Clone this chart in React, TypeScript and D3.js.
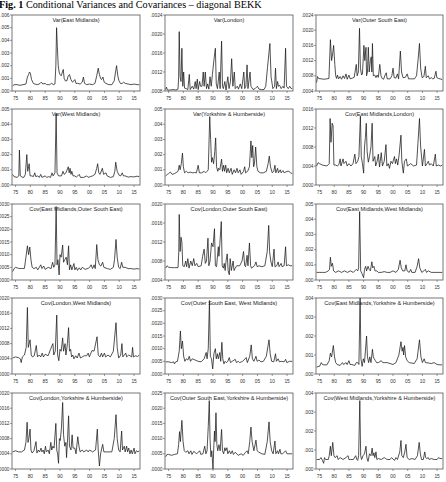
import React from "react";
import * as d3 from "d3";

// values in units of 1e-4, stored as [year, value, year, value, ...]
const emVar = [1974.0, 4, 1974.5, 5, 1975.5, 5, 1976.5, 4.5, 1977.5, 5, 1978.5, 5.5, 1979.0, 11, 1979.4, 13, 1979.7, 15, 1980.0, 14, 1980.4, 9, 1981.0, 6, 1981.5, 5.5, 1982.5, 5, 1983.3, 6, 1983.7, 7, 1984.2, 5.5, 1985.0, 6, 1985.5, 5, 1986.5, 5, 1987.2, 6, 1987.8, 5, 1988.3, 5.5, 1988.6, 20, 1988.85, 50, 1989.1, 35, 1989.4, 20, 1989.7, 15, 1990.0, 13, 1990.4, 12, 1990.7, 14, 1991.1, 17, 1991.4, 10, 1991.8, 8, 1992.3, 8, 1992.8, 12, 1993.2, 13, 1993.7, 9, 1994.2, 7, 1994.7, 8, 1995.0, 9, 1995.4, 6, 1996.0, 6, 1996.8, 5.5, 1997.5, 7, 1997.9, 11, 1998.3, 6, 1999.0, 5, 2000.0, 5.5, 2001.0, 5, 2001.8, 6, 2002.4, 12, 2002.9, 18, 2003.3, 13, 2003.7, 10, 2004.0, 9, 2004.5, 11, 2004.9, 7, 2005.5, 6, 2006.5, 5, 2007.5, 5, 2008.3, 8, 2008.8, 16, 2009.1, 20, 2009.5, 12, 2009.9, 8, 2010.4, 6, 2011.0, 6, 2011.5, 7, 2012.0, 6, 2013.0, 5.5, 2014.0, 5, 2015.0, 5.5, 2016.0, 5, 2016.75, 5];

const lonVar = [1974.0, 8.3, 1974.3, 8.8, 1974.6, 8.2, 1975.5, 8.2, 1976.5, 8.3, 1977.5, 8.2, 1978.2, 8.4, 1978.4, 11, 1978.6, 20.5, 1978.9, 11, 1979.2, 10, 1979.5, 17, 1979.8, 9, 1980.1, 12, 1980.4, 8.6, 1981.0, 8.5, 1981.5, 8.3, 1982.0, 11.5, 1982.3, 8.3, 1983.0, 9, 1983.5, 8.4, 1984.0, 10, 1984.3, 8.5, 1984.7, 10.5, 1985.0, 8.3, 1985.5, 10, 1985.8, 9, 1986.3, 9, 1986.7, 12, 1987.0, 9, 1987.4, 12, 1987.8, 8.5, 1988.2, 9.5, 1988.6, 8.4, 1989.0, 11, 1989.4, 9, 1989.8, 11.5, 1990.4, 15, 1990.8, 17, 1991.1, 9.5, 1991.5, 8.5, 1992.1, 12, 1992.4, 8.5, 1992.9, 18.5, 1993.2, 9, 1993.5, 8.5, 1994.0, 10, 1994.4, 8.2, 1995.0, 11, 1995.4, 8.5, 1995.9, 10, 1996.3, 14.8, 1996.7, 9, 1997.2, 12, 1997.5, 8.5, 1998.2, 9, 1998.6, 8.4, 1999.2, 9.5, 1999.7, 8.5, 2000.4, 12, 2000.7, 8.5, 2001.1, 9, 2001.5, 13.5, 2001.8, 8.5, 2002.5, 12, 2002.8, 9, 2003.5, 8.3, 2004.2, 8.5, 2005.0, 9, 2005.5, 8.4, 2006.3, 8.3, 2007.2, 8.3, 2007.8, 9, 2008.4, 13, 2009.2, 18, 2009.6, 11, 2010.2, 8.5, 2010.8, 9, 2011.1, 12.8, 2011.4, 8.5, 2011.8, 10, 2012.1, 9, 2012.5, 9.2, 2013.0, 8.5, 2013.6, 9, 2014.0, 8.6, 2014.5, 17, 2014.8, 9, 2015.4, 8.5, 2015.9, 9, 2016.4, 8.5, 2016.75, 8.6];

const oseVar = [1974.0, 6.2, 1974.3, 7.8, 1974.7, 7.3, 1975.5, 7.2, 1976.5, 7.1, 1977.5, 7.2, 1978.2, 7.3, 1978.7, 17.5, 1979.1, 12, 1979.5, 14, 1979.8, 16, 1980.2, 11, 1980.5, 8, 1980.8, 7.3, 1981.1, 8.2, 1981.5, 7.2, 1982.0, 7.8, 1982.5, 7.1, 1983.0, 8, 1983.5, 7.3, 1984.0, 8.5, 1984.4, 7.1, 1985.0, 8.2, 1985.4, 7.2, 1986.2, 7.4, 1986.8, 7.6, 1987.5, 11, 1987.8, 8, 1988.2, 9, 1988.6, 20.5, 1988.9, 10, 1989.3, 8.2, 1989.6, 8.5, 1990.1, 16, 1990.4, 12, 1990.8, 15.5, 1991.0, 8, 1991.3, 9, 1991.6, 15.5, 1991.9, 9, 1992.3, 12, 1992.6, 13, 1992.8, 9, 1993.0, 16.5, 1993.3, 8, 1993.8, 8.2, 1994.2, 7.5, 1994.6, 8.2, 1995.0, 7.6, 1995.5, 11, 1995.9, 8, 1996.3, 7.3, 1996.8, 7.1, 1997.3, 8.2, 1997.7, 8.8, 1998.0, 7.2, 1999.0, 7.2, 1999.6, 8, 2000.0, 10, 2000.4, 7.5, 2001.0, 7.4, 2001.5, 8.5, 2001.9, 7.2, 2002.5, 14.5, 2002.9, 9, 2003.4, 7.5, 2004.2, 7.6, 2004.8, 8.5, 2005.3, 7.2, 2006.3, 7.2, 2007.3, 7.2, 2008.0, 8, 2008.5, 12, 2009.0, 16.5, 2009.4, 10, 2009.9, 7.5, 2010.5, 7.8, 2011.0, 10.5, 2011.3, 7.5, 2012.0, 8, 2012.4, 7.2, 2013.0, 7.5, 2013.5, 7.2, 2014.0, 7.3, 2014.6, 9.2, 2014.9, 7.5, 2015.5, 7.3, 2016.0, 7.2, 2016.75, 7];

const wmVar = [1974.0, 7, 1974.5, 5.5, 1975.5, 5, 1976.1, 6, 1976.3, 23, 1976.6, 6, 1977.2, 5.2, 1977.8, 5, 1978.3, 7, 1978.8, 20, 1979.1, 9, 1979.6, 14, 1979.9, 6, 1980.5, 6, 1981.0, 5.5, 1981.5, 8, 1981.8, 5.5, 1982.5, 6, 1983.0, 5, 1983.5, 7, 1983.9, 5, 1985.0, 6, 1985.5, 5, 1986.2, 5.5, 1986.8, 5, 1987.3, 8, 1987.7, 6, 1988.3, 8, 1988.7, 47, 1989.0, 8, 1989.5, 6, 1990.5, 6, 1991.0, 9, 1991.4, 7, 1992.0, 8, 1992.8, 12, 1993.1, 8, 1993.4, 11, 1993.7, 7, 1994.0, 9, 1994.4, 6, 1995.0, 6, 1995.5, 5.2, 1996.0, 6, 1996.5, 7, 1996.9, 5, 1998.0, 5, 1999.0, 6, 1999.5, 5, 2000.2, 5.5, 2001.0, 6, 2001.8, 7, 2002.4, 11, 2002.7, 14, 2003.1, 8, 2003.5, 7, 2004.3, 11, 2004.7, 7, 2005.5, 8, 2005.9, 6, 2007.0, 5, 2008.0, 5.5, 2008.5, 9, 2008.8, 15, 2009.3, 9, 2009.9, 6.5, 2010.5, 6, 2011.0, 8, 2011.4, 6, 2012.0, 6, 2013.0, 5.2, 2014.0, 5.5, 2015.0, 5.3, 2016.0, 5.8, 2016.75, 5.5];

const yhVar = [1974.0, 6, 1974.6, 7, 1975.0, 7.5, 1975.6, 8.5, 1976.2, 7, 1977.0, 7.5, 1977.6, 8.2, 1978.2, 9, 1978.6, 13, 1978.9, 10, 1979.3, 14, 1979.7, 21, 1980.0, 12, 1980.4, 8, 1981.0, 9, 1981.6, 8, 1982.3, 8.5, 1983.0, 8, 1983.8, 8.2, 1984.4, 8, 1985.0, 13, 1985.4, 8, 1986.2, 8, 1987.0, 9, 1987.5, 8, 1988.0, 9, 1988.4, 10, 1988.9, 45, 1989.2, 30, 1989.5, 15, 1989.8, 18, 1990.2, 14, 1990.6, 22, 1990.9, 31, 1991.2, 12, 1991.6, 9, 1991.9, 11, 1992.3, 10, 1992.9, 17, 1993.2, 9, 1993.6, 13, 1993.9, 9, 1994.3, 13, 1994.6, 8, 1995.1, 11, 1995.5, 8, 1996.1, 11, 1996.5, 7, 1997.1, 10, 1997.6, 8, 1998.1, 11, 1998.5, 8, 1999.1, 10, 1999.5, 7, 2000.3, 9, 2000.7, 12, 2001.0, 8, 2001.7, 9, 2002.3, 12, 2002.8, 29, 2003.1, 18, 2003.4, 26, 2003.7, 12, 2004.0, 14, 2004.4, 25, 2004.8, 12, 2005.2, 9, 2006.0, 8, 2007.0, 8, 2008.0, 9, 2008.6, 14, 2009.0, 19, 2009.4, 12, 2010.0, 8, 2010.5, 9, 2010.9, 13, 2011.2, 8, 2011.8, 11, 2012.1, 8, 2012.7, 10, 2013.0, 8, 2013.6, 9.5, 2014.0, 8, 2015.0, 9, 2015.6, 9, 2016.2, 8, 2016.75, 7.5];

const emLon = [1974.0, 4, 1974.5, 4.7, 1975.0, 4.5, 1976.0, 4.2, 1977.5, 4, 1978.3, 4.5, 1978.6, 14, 1978.9, 9, 1979.3, 13, 1979.6, 12.5, 1979.9, 4.2, 1980.5, 4.2, 1981.0, 4, 1981.6, 4.3, 1982.0, 5.5, 1982.3, 4, 1983.0, 5.5, 1983.3, 4.5, 1984.0, 5, 1984.4, 4, 1985.0, 4.5, 1985.7, 4, 1986.4, 4.5, 1987.0, 6.5, 1987.4, 4.5, 1988.0, 5, 1988.4, 6, 1988.9, 14.5, 1989.2, 6, 1989.6, 4.5, 1990.0, 2.5, 1990.3, 8, 1990.6, 10, 1990.9, 13, 1991.2, 7, 1991.6, 4.8, 1992.0, 6, 1992.5, 8, 1992.9, 13, 1993.2, 5, 1993.8, 6, 1994.1, 4, 1994.6, 5, 1995.0, 6.5, 1995.4, 3.8, 1996.0, 6.8, 1996.4, 4, 1997.0, 5, 1997.6, 8.5, 1997.9, 4, 1998.4, 4.5, 1998.8, 3.5, 1999.3, 5, 1999.8, 4.5, 2000.5, 6, 2000.8, 4.5, 2001.2, 5.5, 2001.6, 4.2, 2002.1, 6.5, 2002.7, 10.5, 2003.0, 5, 2003.5, 2.5, 2003.9, 5, 2004.5, 5.5, 2004.9, 4, 2006.0, 4.5, 2007.0, 4, 2008.0, 4.2, 2008.5, 9, 2009.0, 14, 2009.4, 8, 2010.0, 4, 2010.7, 7.5, 2011.0, 4, 2011.6, 4.5, 2012.0, 5, 2012.4, 4.2, 2013.0, 4.5, 2013.7, 4, 2014.4, 6.5, 2014.7, 4, 2015.5, 4.2, 2016.2, 4, 2016.75, 4.2];

const emOse = [1974.0, 3.3, 1974.5, 4.5, 1975.0, 5, 1976.0, 4.6, 1977.0, 4.5, 1978.0, 4.6, 1978.5, 9, 1979.0, 13.5, 1979.4, 10, 1979.8, 13, 1980.2, 8, 1980.6, 5, 1981.2, 4.5, 1982.0, 5, 1982.5, 4, 1983.5, 6, 1983.9, 4.5, 1984.5, 5.5, 1985.0, 4.2, 1986.0, 5, 1987.0, 4.5, 1987.5, 7, 1987.9, 5, 1988.3, 6, 1988.7, 29, 1989.0, 6, 1989.3, 8, 1989.7, 2, 1990.0, 10, 1990.4, 9, 1990.9, 13.8, 1991.2, 7, 1991.6, 8, 1992.1, 9, 1992.5, 6, 1992.9, 13.5, 1993.2, 4, 1993.6, 6, 1994.0, 4, 1994.7, 6.5, 1995.0, 4, 1995.5, 5, 1995.9, 3.8, 1996.5, 4.8, 1997.0, 4, 1997.5, 5, 1998.5, 4.2, 1999.5, 4.6, 2000.0, 5, 2000.5, 6, 2001.0, 4.5, 2001.5, 6, 2001.9, 4.5, 2002.4, 14, 2002.8, 8, 2003.3, 6, 2003.8, 5.5, 2004.4, 7, 2004.8, 5, 2006.0, 4.5, 2007.0, 4.2, 2008.0, 5, 2008.4, 8, 2008.9, 16, 2009.3, 9, 2009.8, 5, 2010.3, 4.5, 2010.8, 7, 2011.2, 5, 2012.0, 5, 2013.0, 4.5, 2014.0, 4.5, 2015.0, 4.3, 2016.0, 4.5, 2016.75, 4.3];

const lonOse = [1974.0, 6.5, 1974.5, 7, 1975.0, 6.7, 1976.0, 6.6, 1977.0, 6.6, 1978.2, 6.6, 1978.45, 10, 1978.6, 17.8, 1978.9, 10, 1979.2, 13, 1979.5, 12, 1979.8, 7, 1980.3, 6.8, 1980.8, 8, 1981.1, 6.8, 1981.5, 8.5, 1981.9, 6.5, 1982.5, 8, 1983.0, 7, 1983.5, 8.5, 1983.9, 7, 1984.5, 7.5, 1985.0, 6.8, 1986.0, 7, 1986.5, 9, 1987.0, 10.5, 1987.4, 7.5, 1987.8, 8, 1988.3, 12.8, 1988.6, 7, 1989.0, 8, 1989.5, 11.8, 1990.0, 11, 1990.5, 14.8, 1990.8, 7, 1991.2, 6.8, 1991.8, 11, 1992.0, 9, 1992.3, 11.5, 1992.8, 16.3, 1993.1, 7, 1993.5, 6.5, 1993.8, 7.5, 1994.1, 6, 1994.4, 8, 1994.8, 9.5, 1995.1, 6, 1995.5, 5.1, 1995.8, 8.5, 1996.2, 6, 1996.8, 8, 1997.1, 6, 1997.5, 6.5, 1998.0, 7, 1999.0, 7, 1999.8, 8, 2000.3, 10, 2000.7, 7, 2001.0, 6.8, 2001.5, 9.2, 2001.8, 7, 2002.3, 11.8, 2002.7, 7, 2003.0, 6.5, 2004.0, 7, 2004.5, 7.8, 2004.9, 6.8, 2005.5, 7, 2006.5, 6.8, 2007.5, 7, 2008.3, 10, 2008.8, 15.5, 2009.1, 10, 2009.5, 8, 2010.0, 6.8, 2010.6, 10.5, 2010.9, 6.8, 2011.5, 7, 2012.0, 7.8, 2012.3, 6.8, 2013.0, 7.5, 2013.3, 6.8, 2014.0, 7, 2014.5, 11, 2014.8, 7, 2015.5, 7.2, 2016.0, 7, 2016.75, 7];

const emWm = [1974.0, 5, 1975.0, 5, 1976.0, 5, 1977.0, 5, 1978.0, 6, 1978.4, 7, 1978.7, 15, 1979.0, 9, 1979.4, 11, 1979.8, 6, 1980.5, 5, 1981.5, 6, 1982.5, 5, 1983.5, 6, 1984.5, 5, 1985.5, 6, 1986.5, 5, 1987.5, 7, 1988.0, 6, 1988.3, 8, 1988.65, 45, 1989.0, 6, 1989.5, 4, 1990.0, 1.5, 1990.3, 7, 1990.7, 9, 1991.0, 6, 1991.5, 9, 1991.9, 7, 1992.3, 6, 1992.8, 12, 1993.1, 8, 1993.5, 9, 1993.9, 6, 1994.5, 6, 1995.0, 5, 1996.0, 5, 1997.0, 5.5, 1998.0, 5, 1999.0, 5, 2000.0, 6, 2001.0, 5, 2001.8, 7, 2002.4, 13, 2002.8, 8, 2003.3, 6, 2004.0, 6, 2004.4, 10, 2004.8, 6, 2005.5, 5, 2006.0, 7, 2006.4, 5, 2007.5, 5, 2008.2, 9, 2008.7, 14, 2009.1, 8, 2009.8, 5, 2010.5, 6, 2011.0, 7, 2011.4, 5, 2012.0, 6, 2013.0, 5, 2014.0, 5, 2015.0, 5, 2016.0, 5, 2016.75, 5];

const lonWm = [1974.0, 4.2, 1975.0, 4.5, 1976.0, 4.3, 1976.6, 4, 1976.9, 3, 1977.3, 4.5, 1978.0, 5, 1978.6, 7, 1979.0, 17.5, 1979.3, 7, 1979.6, 8, 1979.9, 9, 1980.3, 5, 1980.7, 4.5, 1981.3, 4.8, 1982.0, 7.5, 1982.4, 4.5, 1983.0, 5, 1983.5, 4.5, 1984.0, 5.5, 1984.4, 4.5, 1985.0, 5.2, 1986.0, 4.8, 1986.8, 6.5, 1987.6, 8, 1987.9, 5, 1988.4, 6, 1988.9, 15.5, 1989.2, 5, 1989.6, 3.5, 1990.0, 6.5, 1990.4, 6, 1990.9, 9.5, 1991.2, 6, 1991.7, 8, 1992.0, 5, 1992.5, 8, 1992.9, 12.2, 1993.2, 6, 1993.6, 6.5, 1993.9, 4.5, 1994.3, 5, 1994.7, 4, 1995.3, 4.8, 1995.8, 4.2, 1996.4, 5.5, 1996.9, 4.2, 1997.5, 4.5, 1998.2, 4.8, 1999.0, 4.8, 1999.5, 5.5, 1999.9, 4.5, 2000.8, 6.2, 2001.5, 6, 2002.5, 9.8, 2002.9, 5, 2003.5, 4.5, 2004.0, 5.5, 2004.4, 4.5, 2005.0, 5.5, 2005.4, 4.5, 2006.2, 5, 2007.0, 4.5, 2008.0, 6, 2008.9, 13.5, 2009.3, 7, 2009.8, 4.2, 2010.5, 5, 2010.9, 8, 2011.2, 4.5, 2011.7, 5, 2012.2, 5.5, 2012.5, 4.5, 2013.2, 5, 2014.2, 4.5, 2014.5, 7, 2014.8, 4.5, 2015.5, 4.8, 2016.2, 4.6, 2016.75, 5];

const oseWm = [1974.0, 4.8, 1975.0, 4.8, 1976.0, 4.5, 1976.7, 4.8, 1977.0, 4, 1977.4, 4.8, 1978.0, 5, 1978.6, 9, 1979.0, 17, 1979.3, 10, 1979.7, 13, 1980.1, 7, 1980.5, 5, 1981.0, 6, 1981.5, 5.5, 1982.0, 7, 1982.4, 5, 1983.0, 6, 1984.0, 5.5, 1985.0, 5, 1986.0, 4.8, 1987.0, 6, 1987.7, 8.5, 1988.0, 6, 1988.4, 10, 1988.8, 29, 1989.1, 7, 1989.5, 6, 1989.9, 2, 1990.3, 8, 1990.8, 10, 1991.1, 6, 1991.5, 8, 1991.8, 6, 1992.3, 8.5, 1992.6, 5, 1993.0, 12.5, 1993.3, 6, 1993.7, 4, 1994.1, 5, 1994.5, 4.5, 1995.0, 5, 1995.5, 6.5, 1995.9, 4.5, 1996.5, 5, 1997.5, 5.8, 1997.9, 4.5, 1998.5, 5, 1999.0, 4.5, 2000.0, 5, 2001.2, 6.5, 2001.6, 4.5, 2002.4, 7, 2002.9, 11.5, 2003.3, 6, 2003.8, 5, 2004.5, 7, 2004.9, 5, 2005.5, 5.5, 2006.2, 4.8, 2007.0, 5, 2008.0, 7, 2008.9, 13.5, 2009.3, 8, 2009.8, 5, 2010.5, 4.8, 2011.1, 8, 2011.4, 5, 2012.0, 6, 2012.4, 4.8, 2013.0, 5, 2014.0, 4.8, 2014.5, 5.8, 2014.9, 4.5, 2015.8, 5, 2016.75, 5];

const emYh = [1974.0, 3.5, 1974.5, 4, 1975.0, 4, 1975.6, 6, 1976.0, 5, 1976.5, 4.8, 1977.5, 4.8, 1978.3, 7, 1978.7, 11, 1979.1, 9, 1979.7, 15, 1980.1, 9, 1980.5, 6, 1981.0, 5, 1982.0, 4.5, 1982.8, 6, 1983.2, 5, 1984.0, 6, 1984.4, 5, 1985.0, 7, 1985.4, 5, 1986.0, 5, 1987.0, 4.5, 1987.5, 6, 1988.0, 6, 1988.4, 5, 1988.8, 40, 1989.1, 8, 1989.5, 4, 1989.9, 8, 1990.3, 6, 1990.6, 12, 1991.0, 20, 1991.3, 9, 1991.7, 6, 1992.1, 9, 1992.5, 6, 1993.0, 13, 1993.3, 9, 1993.6, 8, 1994.0, 7, 1994.4, 6, 1995.0, 6, 1996.0, 7, 1996.5, 6, 1997.2, 6, 1998.0, 6, 1999.0, 5.5, 2000.0, 5, 2001.0, 6, 2002.0, 10, 2002.7, 17, 2003.1, 12, 2003.4, 14, 2003.6, 10, 2003.9, 15, 2004.3, 9, 2004.8, 7, 2005.5, 6, 2006.2, 5.8, 2007.2, 5.5, 2008.2, 8, 2009.0, 18, 2009.5, 9, 2010.0, 6, 2010.6, 8, 2011.0, 6, 2012.0, 5.8, 2013.0, 5.5, 2014.0, 6, 2015.0, 5, 2016.0, 4.8, 2016.75, 4.8];

const lonYh = [1974.0, 4.5, 1975.0, 4.8, 1976.0, 4.5, 1977.0, 4.5, 1978.0, 5, 1978.5, 7, 1978.9, 12.3, 1979.2, 7, 1979.5, 8, 1979.9, 10.5, 1980.2, 5, 1980.6, 4.2, 1981.2, 4.8, 1981.9, 7.2, 1982.2, 4.2, 1982.7, 5, 1983.1, 4.5, 1983.6, 5.5, 1983.9, 4.5, 1984.3, 5, 1984.7, 4, 1985.1, 6, 1985.4, 4.5, 1986.0, 5, 1986.4, 4, 1986.9, 7, 1987.2, 5, 1987.6, 6, 1988.0, 5.5, 1988.6, 12, 1988.9, 5, 1989.2, 4, 1989.5, 1.5, 1989.8, 8, 1990.1, 7.5, 1990.5, 11, 1990.9, 17.5, 1991.2, 9, 1991.6, 6, 1992.0, 7, 1992.2, 3, 1992.5, 7, 1992.9, 14, 1993.2, 6, 1993.7, 5, 1994.1, 9, 1994.4, 5.5, 1995.0, 5.5, 1995.4, 4, 1996.0, 8.5, 1996.4, 6, 1996.8, 4.5, 1997.5, 5, 1998.0, 4.5, 1999.0, 5, 1999.5, 4.5, 2000.0, 5, 2001.0, 4.5, 2002.0, 5, 2002.6, 10.5, 2002.9, 5, 2003.3, 0.8, 2003.7, 4, 2004.4, 6.5, 2004.8, 4.5, 2005.5, 4.5, 2006.5, 4.5, 2007.5, 4.5, 2008.3, 8, 2008.9, 14.3, 2009.3, 8, 2009.8, 5, 2010.3, 4.5, 2010.8, 10, 2011.1, 5, 2011.7, 6, 2012.0, 4.5, 2012.5, 6, 2012.8, 4.5, 2013.2, 5.5, 2013.6, 4, 2014.0, 5, 2014.4, 4, 2015.0, 5.5, 2015.3, 4, 2015.8, 4.8, 2016.3, 4.5, 2016.75, 4.8];

const oseYh = [1974.0, 4, 1974.5, 4.8, 1975.0, 4.8, 1976.0, 4.5, 1977.0, 4.8, 1978.0, 5, 1978.4, 8, 1978.7, 12.3, 1979.0, 9, 1979.5, 16, 1979.9, 9, 1980.3, 6, 1980.8, 5.5, 1981.5, 6, 1981.9, 5, 1982.5, 6, 1982.9, 4.8, 1983.5, 5.8, 1984.5, 5, 1985.5, 6, 1985.9, 4.8, 1986.6, 5, 1987.2, 7.5, 1987.6, 5, 1988.0, 6, 1988.4, 14, 1988.75, 22.5, 1989.0, 10, 1989.3, 4, 1989.6, 6, 1990.0, 0, 1990.3, 8, 1990.5, 12.5, 1990.7, 9, 1991.0, 18.5, 1991.3, 8, 1991.6, 6, 1992.0, 8, 1992.4, 6, 1992.9, 13, 1993.2, 6, 1993.6, 5, 1994.0, 7, 1994.3, 6, 1994.7, 7, 1995.0, 5, 1995.5, 6, 1996.0, 5, 1996.5, 6, 1996.9, 4.8, 1997.5, 5.5, 1998.5, 4.5, 1999.5, 5, 2000.2, 4.5, 2001.0, 5.5, 2001.5, 6, 2001.9, 5, 2002.4, 9, 2002.8, 13.8, 2003.2, 9, 2003.8, 6, 2004.5, 9.5, 2004.9, 6, 2005.5, 5.5, 2006.5, 5, 2007.5, 4.8, 2008.3, 9, 2008.9, 15.5, 2009.3, 9, 2009.8, 6, 2010.3, 5, 2010.9, 9.2, 2011.2, 5, 2011.8, 6, 2012.1, 5, 2012.6, 6.5, 2012.9, 5, 2013.5, 5, 2014.5, 6, 2015.0, 5, 2016.0, 5, 2016.75, 5];

const wmYh = [1974.0, 5, 1975.0, 5, 1975.5, 6, 1976.0, 4.5, 1976.4, 3, 1976.7, 6, 1977.1, 5, 1978.0, 5, 1978.3, 7, 1978.7, 12, 1979.0, 7, 1979.5, 14, 1979.9, 7, 1980.3, 6, 1981.0, 7, 1981.3, 5, 1982.0, 6, 1983.0, 5, 1984.0, 6, 1984.7, 7, 1985.0, 5, 1985.5, 5, 1986.5, 5, 1987.3, 7, 1987.7, 5, 1988.0, 4.5, 1988.3, 7, 1988.7, 36, 1989.0, 7, 1989.3, 5, 1989.8, 7, 1990.3, 8, 1990.8, 12, 1991.1, 6, 1991.5, 4, 1992.0, 8, 1992.5, 7, 1992.9, 11, 1993.2, 7, 1993.5, 8.5, 1993.8, 6, 1994.2, 9, 1994.5, 5, 1995.0, 5.5, 1996.0, 5, 1997.0, 6, 1997.5, 5.5, 1998.0, 5, 1999.0, 5, 1999.5, 6, 2000.5, 4.5, 2001.0, 6, 2001.5, 5, 2002.3, 9, 2002.7, 15, 2003.0, 7, 2003.5, 6, 2004.0, 9, 2004.4, 13, 2004.8, 6, 2005.5, 5, 2006.5, 5.5, 2007.5, 5, 2008.3, 7, 2008.9, 14, 2009.3, 8, 2009.7, 5, 2010.3, 5, 2010.8, 9, 2011.1, 6, 2011.5, 5.5, 2012.0, 6, 2012.3, 5, 2013.0, 5.5, 2014.0, 5, 2015.0, 5, 2015.5, 6, 2016.0, 5.5, 2016.75, 5.5];

const titles = [
  "Var(East Midlands)", "Var(London)", "Var(Outer South East)",
  "Var(West Midlands)", "Var(Yorkshire & Humberside)", "Cov(East Midlands,London)",
  "Cov(East Midlands,Outer South East)", "Cov(London,Outer South East)", "Cov(East Midlands,West Midlands)",
  "Cov(London,West Midlands)", "Cov(Outer South East, West Midlands)", "Cov(East Midlands,Yorkshire & Humberside)",
  "Cov(London,Yorkshire & Humberside)", "Cov(Outer South East,Yorkshire & Humberside)", "Cov(West Midlands,Yorkshire & Humberside)",
];
const series = [emVar, lonVar, oseVar, wmVar, yhVar, emLon, emOse, lonOse, emWm, lonWm, oseWm, emYh, lonYh, oseYh, wmYh];
// y axis: [min, max, step] in 1e-4 units, and label decimals
const yRanges = [
  [0, 60, 10], [8, 24, 4], [4, 24, 4],
  [0, 50, 10], [0, 50, 10], [0, 16, 4],
  [0, 30, 5], [4, 20, 4], [0, 50, 10],
  [0, 20, 4], [0, 30, 5], [0, 40, 10],
  [0, 20, 4], [0, 25, 5], [0, 40, 10],
];
const yDecimals = [3, 4, 4, 3, 3, 4, 4, 4, 3, 4, 4, 3, 4, 4, 3];
const yearTicks = [1975, 1980, 1985, 1990, 1995, 2000, 2005, 2010, 2015];

const colLeft = [12, 165, 316];
const colRight = [140, 293, 443];
const rowTop = [15, 109, 204, 298, 393];
const boxH = 76;

function Panel({ idx }) {
  const col = idx % 3;
  const row = Math.floor(idx / 3);
  const x0 = colLeft[col], x1 = colRight[col];
  const y0 = rowTop[row], y1 = y0 + boxH;
  const [lo, hi, step] = yRanges[idx];
  const x = d3.scaleLinear().domain([1973.8, 2017]).range([x0, x1]);
  const y = d3.scaleLinear().domain([lo, hi]).range([y1, y0]);
  const raw = series[idx];
  const pts = [];
  for (let i = 0; i < raw.length; i += 2) pts.push([raw[i], raw[i + 1]]);
  const line = d3.line().x(d => x(d[0])).y(d => y(d[1]));
  const yTicks = d3.range(lo, hi + step / 2, step);
  const fmt = d3.format(`.${yDecimals[idx]}f`);
  return (
    <g>
      <path d={line(pts)} fill="none" stroke="#1a1a1a" strokeWidth={0.75} />
      <rect x={x0} y={y0} width={x1 - x0} height={boxH} fill="none" stroke="#555" strokeWidth={0.8} />
      {yTicks.map(t => (
        <g key={t}>
          <line x1={x0 - 2} x2={x0} y1={y(t)} y2={y(t)} stroke="#555" strokeWidth={0.6} />
          <text x={x0 - 2.5} y={y(t) + 1.6} textAnchor="end" fontSize={4.8} fill="#333">
            {fmt(t * 1e-4).replace(/^0/, "")}
          </text>
        </g>
      ))}
      {yearTicks.map(t => (
        <g key={t}>
          <line x1={x(t)} x2={x(t)} y1={y1} y2={y1 + 2} stroke="#555" strokeWidth={0.6} />
          <text x={x(t)} y={y1 + 8.5} textAnchor="middle" fontSize={4.8} fill="#333">
            {String(t % 100).padStart(2, "0")}
          </text>
        </g>
      ))}
      <text x={(x0 + x1) / 2} y={y0 + 7} textAnchor="middle" fontSize={5.6} fill="#222">
        {titles[idx]}
      </text>
    </g>
  );
}

export default function App() {
  return (
    <svg width={446} height={482} style={{ position: "absolute", left: 0, top: 0, background: "#fff" }}
      fontFamily="Liberation Sans, Arial, sans-serif">
      <rect width={446} height={482} fill="#fff" />
      <text x={-1} y={8} fontFamily="Liberation Serif, Times New Roman, serif" fontSize={10.2} fill="#000">
        <tspan fontWeight="bold">Fig. 1</tspan>
        <tspan> Conditional Variances and Covariances – diagonal BEKK</tspan>
      </text>
      {titles.map((_, i) => <Panel key={i} idx={i} />)}
    </svg>
  );
}
